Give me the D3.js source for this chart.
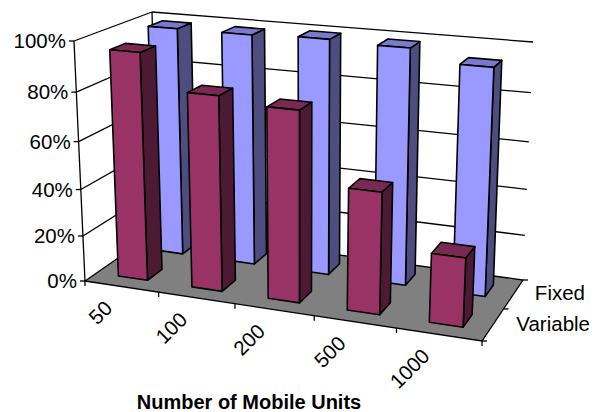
<!DOCTYPE html>
<html><head><meta charset="utf-8">
<style>html,body{margin:0;padding:0;background:#fff}svg{display:block}text{font-family:"Liberation Sans",Arial,sans-serif;fill:#000}</style>
<script src="https://cdn.jsdelivr.net/npm/d3@7"></script>
</head><body><svg id="c" width="598" height="412"></svg>
<script>
const categories = ["50","100","200","500","1000"];
const seriesNames = ["Variable","Fixed"];
const variableValues = [95.5,81.5,79,50.5,28.5];
const fixedValues = [98.7,98.7,99.5,98.7,94];
const valueTicks = [0,20,40,60,80,100];
const xTitle = "Number of Mobile Units";

const svg=d3.select("#c");
// Plot-box corners in the picture (front-left, front-right, back-right, back-left)
const floorQuad=[[85,281],[482,341],[523,280],[158,230.3]];
const roofQuad=[[74,41],[494,78],[533,42],[152,12]];
function homography(q){
  const [[x0,y0],[x1,y1],[x2,y2],[x3,y3]]=q;
  const dx1=x1-x2,dx2=x3-x2,sx=x0-x1+x2-x3,dy1=y1-y2,dy2=y3-y2,sy=y0-y1+y2-y3;
  const d=dx1*dy2-dx2*dy1;
  const g=(sx*dy2-dx2*sy)/d,h=(dx1*sy-sx*dy1)/d;
  const a=x1-x0+g*x1,b=x3-x0+h*x3,c=x0,e=y1-y0+g*y1,f=y3-y0+h*y3,i=y0;
  return (u,v)=>{const w=g*u+h*v+1;return [(a*u+b*v+c)/w,(e*u+f*v+i)/w];};
}
const hFloor=homography(floorQuad),hRoof=homography(roofQuad);
const xScale=d3.scaleLinear().domain([0,categories.length]).range([0,1]);
const zScale=d3.scaleLinear().domain([0,seriesNames.length]).range([0,1]);
const yScale=d3.scaleLinear().domain([0,100]).range([0,1]);
const K=1.083;
function P(cat,ser,val){
  const u=xScale(cat),v=zScale(ser),w=yScale(val);
  const t=w/(w+K*(1-w));
  const a=hFloor(u,v),b=hRoof(u,v);
  return [a[0]+(b[0]-a[0])*t,a[1]+(b[1]-a[1])*t];
}
const line=d3.line();
const poly=pts=>line(pts)+"Z";
const LW=1.3;
const g=svg.append("g");
function seg(a,b,w){g.append("line").attr("x1",a[0]).attr("y1",a[1]).attr("x2",b[0]).attr("y2",b[1]).attr("stroke","#000").attr("stroke-width",w||LW);}
const nC=categories.length,nS=seriesNames.length,maxV=100;

valueTicks.forEach(t=>{
  if(t>0) seg(P(0,0,t),P(0,nS,t));
  if(t>0) seg(P(0,nS,t),P(nC,nS,t));
});
seg(P(0,0,0),P(0,0,maxV));
seg(P(0,nS,0),P(0,nS,maxV));
g.append("path").attr("d",poly([P(0,0,0),P(nC,0,0),P(nC,nS,0),P(0,nS,0)])).attr("fill","#808080").attr("stroke","#000").attr("stroke-width",LW);
const labelSize=20.5;
valueTicks.forEach(t=>{
  const p=P(0,0,t);
  seg([p[0]-5,p[1]],p);
  g.append("text").attr("x",p[0]-8).attr("y",p[1]+7).attr("text-anchor","end").attr("font-size",labelSize).text(t+"%");
});
d3.range(nC+1).forEach(i=>{const p=P(i,0,0);seg(p,[p[0],p[1]+5]);});
categories.forEach((c,i)=>{
  const p=P(i+0.5,0,0);
  g.append("text").attr("transform",`translate(${p[0]-8},${p[1]+23}) rotate(-45)`).attr("text-anchor","end").attr("font-size",labelSize).text(c);
});
d3.range(nS+1).forEach(i=>{const p=P(nC,i,0);seg(p,[p[0]+5,p[1]]);});
const serLabelX=[590,585],serLabelY=[331,300];
seriesNames.forEach((s,i)=>{
  g.append("text").attr("x",serLabelX[i]).attr("y",serLabelY[i]).attr("text-anchor","end").attr("font-size",labelSize).text(s);
});
g.append("text").attr("x",249).attr("y",409).attr("text-anchor","middle").attr("font-size",20).attr("font-weight","bold").text(xTitle);

const barPad=0.3;
function bar(ci,si,val,cols){
  const u0=ci+barPad,u1=ci+1-barPad,v0=si+barPad,v1=si+1-barPad;
  const a=P(u0,v0,0),b=P(u1,v0,0),c=P(u1,v1,0);
  const A=P(u0,v0,val),B=P(u1,v0,val),C=P(u1,v1,val),D=P(u0,v1,val);
  const f=(pts,col)=>g.append("path").attr("d",poly(pts)).attr("fill",col).attr("stroke","#000").attr("stroke-width",1.6).attr("stroke-linejoin","round");
  f([b,c,C,B],cols[1]);
  f([A,B,C,D],cols[2]);
  f([a,b,B,A],cols[0]);
}
const blue=["#9999ff","#4d4d80","#7a7acc"],red=["#993366","#4d1a33","#7a2952"];
fixedValues.forEach((v,i)=>bar(i,1,v,blue));
variableValues.forEach((v,i)=>bar(i,0,v,red));
</script></body></html>
